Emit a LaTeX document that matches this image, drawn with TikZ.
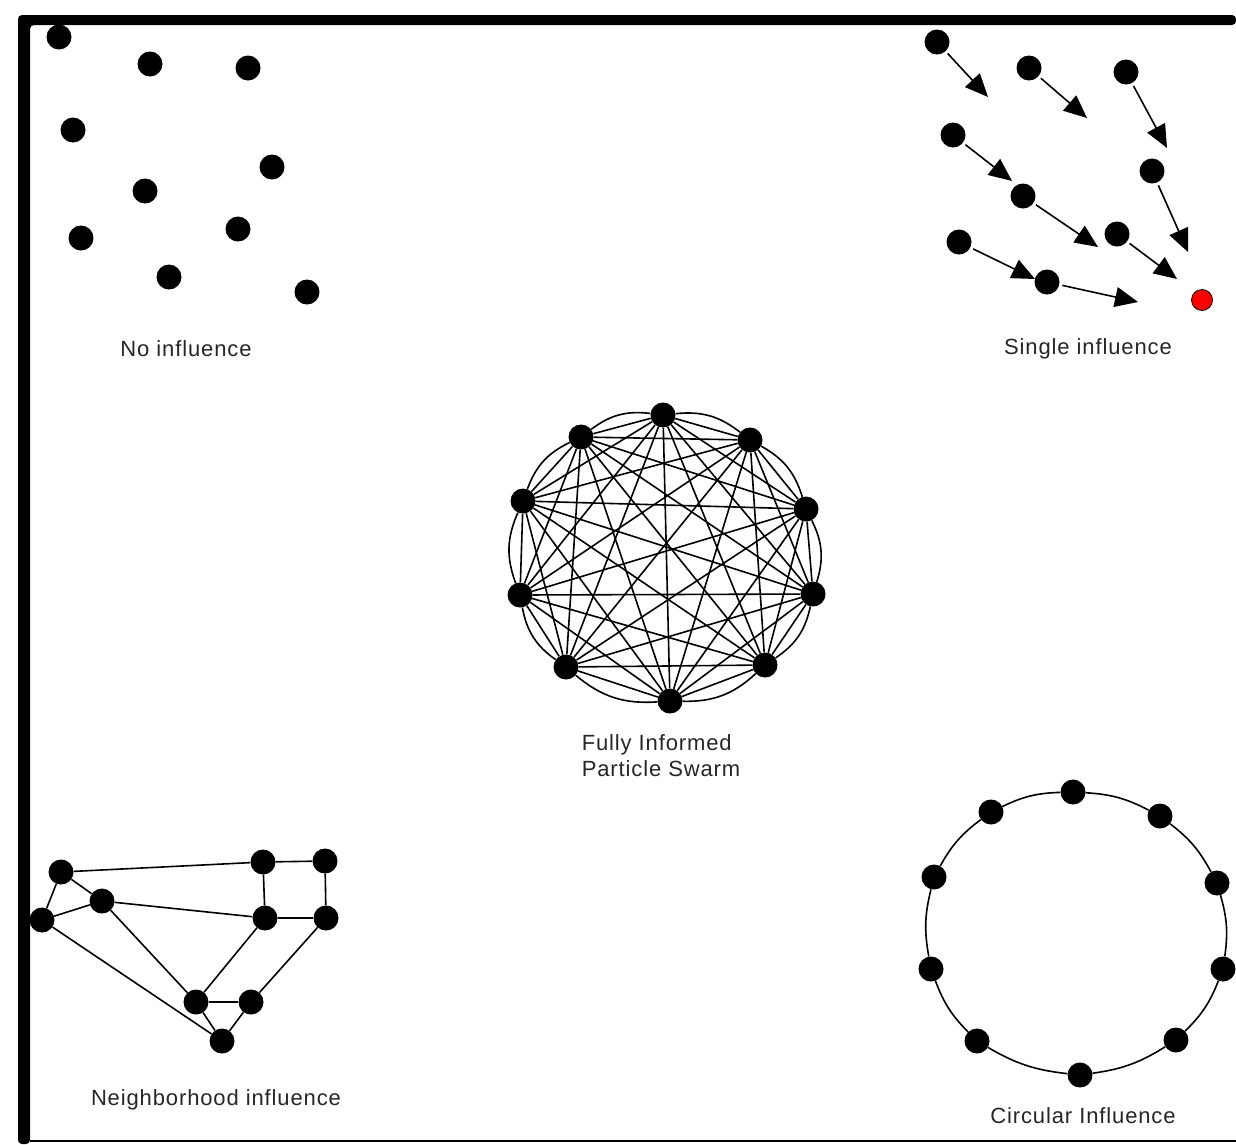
\documentclass[tikz,border=0pt]{standalone}
\usepackage{fontspec}
\setmainfont{Liberation Sans}[LetterSpace=4]
\usetikzlibrary{arrows.meta}

\begin{document}
\begin{tikzpicture}[x=1pt, y=-1pt,
  dot/.style={circle, fill=black, inner sep=0pt, minimum size=25pt},
  reddot/.style={circle, fill=red, draw=black, line width=0.8pt, inner sep=0pt, minimum size=21pt},
  lab/.style={font=\fontsize{22pt}{26pt}\selectfont, text=black!85, inner sep=0pt},
  edge/.style={line width=1.6pt},
  arr/.style={-{Triangle[length=23pt,width=20pt]}, line width=1.6pt, shorten <=3pt}
]
\useasboundingbox (0,0) rectangle (1236,1144);

% frame
\fill[rounded corners=4pt] (18,1144) -- (18,15) -- (1236,15) -- (1236,25) -- (30,25) -- (30,1144) -- cycle;
\draw[line width=2pt] (30,1141) -- (1236,1141);

% no influence
\node[dot] (P1) at (59,37) {};
\node[dot] (P2) at (150,64) {};
\node[dot] (P3) at (248,68) {};
\node[dot] (P4) at (73,130) {};
\node[dot] (P5) at (272,167) {};
\node[dot] (P6) at (145,191) {};
\node[dot] (P7) at (81,238) {};
\node[dot] (P8) at (238,229) {};
\node[dot] (P9) at (169,277) {};
\node[dot] (P10) at (307,292) {};
\node[lab] (noinf) at (186,349) {No influence};

% single influence
\node[dot] (S1) at (937,42) {};
\node[dot] (S2) at (1029,68) {};
\node[dot] (S3) at (1126,72) {};
\node[dot] (S4) at (953,135) {};
\node[dot] (S5) at (1152,171) {};
\node[dot] (S6) at (1023,196) {};
\node[dot] (S7) at (1117,234) {};
\node[dot] (S8) at (959,242) {};
\node[dot] (S9) at (1047,282) {};
\node[reddot] (best) at (1202,300) {};
\coordinate (t1) at (988,97);
\coordinate (t2) at (1087,118);
\coordinate (t3) at (1167,148);
\coordinate (t4) at (1012,181);
\coordinate (t5) at (1098,247);
\coordinate (t6) at (1188,252);
\coordinate (t7) at (1035,279);
\coordinate (t8) at (1177,279);
\coordinate (t9) at (1138,302);
\draw[arr] (S1) -- (t1);
\draw[arr] (S2) -- (t2);
\draw[arr] (S3) -- (t3);
\draw[arr] (S4) -- (t4);
\draw[arr] (S6) -- (t5);
\draw[arr] (S5) -- (t6);
\draw[arr] (S8) -- (t7);
\draw[arr] (S7) -- (t8);
\draw[arr] (S9) -- (t9);
\node[lab] (single) at (1088,349) {Single influence};

% fully informed
\node[dot] (F0) at (663,415) {};
\node[dot] (F1) at (750,440) {};
\node[dot] (F2) at (806,509) {};
\node[dot] (F3) at (813,594) {};
\node[dot] (F4) at (765,665) {};
\node[dot] (F5) at (670,701) {};
\node[dot] (F6) at (566,667) {};
\node[dot] (F7) at (520,595) {};
\node[dot] (F8) at (523,501) {};
\node[dot] (F9) at (581,437) {};
\foreach \i in {0,...,8} {
  \pgfmathtruncatemacro{\next}{\i+1}
  \foreach \j in {\next,...,9}
    \draw[edge] (F\i) -- (F\j);
}
\foreach \i/\j in {0/1,1/2,2/3,3/4,4/5,5/6,6/7,7/8,8/9,9/0}
  \draw[edge] (F\i) to[bend left=22] (F\j);
\node[lab, align=left] (fips) at (661,756) {Fully Informed\\Particle Swarm};

% neighborhood influence
\node[dot] (A) at (61,872) {};
\node[dot] (B) at (42,920) {};
\node[dot] (C) at (102,901) {};
\node[dot] (D) at (263,862) {};
\node[dot] (E) at (325,861) {};
\node[dot] (F) at (265,918) {};
\node[dot] (G) at (326,918) {};
\node[dot] (H) at (196,1002) {};
\node[dot] (I) at (251,1002) {};
\node[dot] (J) at (222,1041) {};
\draw[edge] (A) -- (D);
\draw[edge] (A) -- (B);
\draw[edge] (A) -- (C);
\draw[edge] (B) -- (C);
\draw[edge] (C) -- (F);
\draw[edge] (D) -- (E);
\draw[edge] (D) -- (F);
\draw[edge] (E) -- (G);
\draw[edge] (F) -- (G);
\draw[edge] (C) -- (H);
\draw[edge] (F) -- (H);
\draw[edge] (G) -- (I);
\draw[edge] (H) -- (I);
\draw[edge] (H) -- (J);
\draw[edge] (I) -- (J);
\draw[edge] (B) -- (J);
\node[lab] (neigh) at (216,1100) {Neighborhood influence};

% circular influence
\node[dot] (R0) at (1073,792) {};
\node[dot] (R1) at (1160,816) {};
\node[dot] (R2) at (1217,883) {};
\node[dot] (R3) at (1223,969) {};
\node[dot] (R4) at (1176,1040) {};
\node[dot] (R5) at (1080,1075) {};
\node[dot] (R6) at (977,1041) {};
\node[dot] (R7) at (931,969) {};
\node[dot] (R8) at (934,877) {};
\node[dot] (R9) at (991,812) {};
\foreach \i/\j in {0/1,1/2,2/3,3/4,4/5,5/6,6/7,7/8,8/9,9/0}
  \draw[edge] (R\i) to[bend left=12] (R\j);
\node[lab] (circ) at (1083,1116) {Circular Influence};
\end{tikzpicture}
\end{document}
